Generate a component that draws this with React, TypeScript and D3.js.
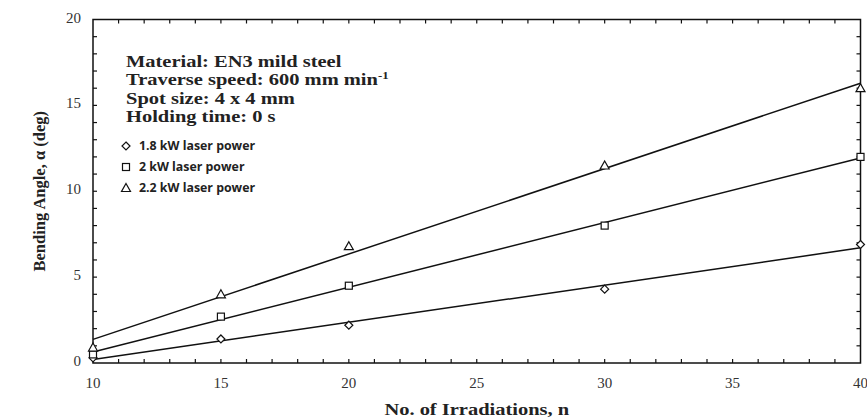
import React from "react";
import * as d3 from "d3";

const irradiations = [10, 15, 20, 30, 40];
const angle18kW = [0.3, 1.4, 2.2, 4.3, 6.9];
const angle2kW = [0.5, 2.7, 4.5, 8.0, 12.0];
const angle22kW = [0.9, 4.0, 6.8, 11.5, 16.0];
const xTicks = [10, 15, 20, 25, 30, 35, 40];
const yTicks = [0, 5, 10, 15, 20];
const notes = [
  "Material: EN3 mild steel",
  "Traverse speed: 600 mm min",
  "Spot size: 4 x 4 mm",
  "Holding time: 0 s",
];
const legendLabels = ["1.8 kW laser power", "2 kW laser power", "2.2 kW laser power"];

const W = 867;
const H = 420;
const margin = { top: 19.5, right: 6.5, bottom: 57, left: 93 };

// least squares fit, drawn over the full x range
function fit(xs: number[], ys: number[]) {
  const mx = d3.mean(xs)!;
  const my = d3.mean(ys)!;
  const sxy = d3.sum(xs, (x, i) => (x - mx) * (ys[i] - my));
  const sxx = d3.sum(xs, (x) => (x - mx) ** 2);
  const b = sxy / sxx;
  return (x: number) => my + b * (x - mx);
}

function Marker({ type, cx, cy }: { type: string; cx: number; cy: number }) {
  const st = { fill: "white", stroke: "#111", strokeWidth: 1.2 };
  if (type === "diamond")
    return <path d={`M${cx},${cy - 4}L${cx + 4},${cy}L${cx},${cy + 4}L${cx - 4},${cy}Z`} {...st} />;
  if (type === "square") return <rect x={cx - 3.5} y={cy - 3.5} width={7} height={7} {...st} />;
  return <path d={`M${cx},${cy - 4.5}L${cx + 4.5},${cy + 3.5}L${cx - 4.5},${cy + 3.5}Z`} {...st} />;
}

export default function App() {
  const x = d3.scaleLinear().domain([10, 40]).range([margin.left, W - margin.right]);
  const y = d3.scaleLinear().domain([0, 20]).range([H - margin.bottom, margin.top]);
  const series = [
    { type: "diamond", values: angle18kW },
    { type: "square", values: angle2kW },
    { type: "triangle", values: angle22kW },
  ];
  const minorX = d3.range(11, 40);
  const minorY = d3.range(1, 20);
  const x0 = x.range()[0], x1 = x.range()[1], y0 = y.range()[0], y1 = y.range()[1];
  const serif = "'Liberation Serif', 'Times New Roman', serif";

  return (
    <svg width={W} height={H} style={{ position: "absolute", left: 0, top: 0, background: "white" }}>
      <rect x={x0} y={y1} width={x1 - x0} height={y0 - y1} fill="none" stroke="#111" strokeWidth={1.5} />
      {minorX.map((v) => (
        <g key={"tx" + v} stroke="#111" strokeWidth={1.2}>
          <line x1={x(v)} x2={x(v)} y1={y0} y2={y0 - 4} />
          <line x1={x(v)} x2={x(v)} y1={y1} y2={y1 + 4} />
        </g>
      ))}
      {minorY.map((v) => (
        <g key={"ty" + v} stroke="#111" strokeWidth={1.2}>
          <line x1={x0} x2={x0 + 4} y1={y(v)} y2={y(v)} />
          <line x1={x1} x2={x1 - 4} y1={y(v)} y2={y(v)} />
        </g>
      ))}
      {xTicks.map((v) => (
        <text key={"lx" + v} x={x(v)} y={y0 + 25} textAnchor="middle" fontFamily={serif} fontSize={15} fill="#333">
          {v}
        </text>
      ))}
      {yTicks.map((v) => (
        <text key={"ly" + v} x={x0 - 12} y={y(v) + 3} textAnchor="end" fontFamily={serif} fontSize={15} fill="#333">
          {v}
        </text>
      ))}
      {series.map((s) => {
        const f = fit(irradiations, s.values);
        return (
          <g key={s.type}>
            <line x1={x(10)} y1={y(f(10))} x2={x(40)} y2={y(f(40))} stroke="#111" strokeWidth={1.5} />
            {irradiations.map((n, i) => (
              <Marker key={n} type={s.type} cx={x(n)} cy={y(s.values[i])} />
            ))}
          </g>
        );
      })}
      <g fontFamily={serif} fontWeight="bold" fontSize={16} fill="#222" transform="translate(126,0) scale(1.28,1)">
        {notes.map((t, i) => (
          <text key={t} x={0} y={67 + i * 18.5}>
            {t}
            {i === 1 && (
              <tspan dy={-6} fontSize={10}>
                -1
              </tspan>
            )}
          </text>
        ))}
      </g>
      <g fontFamily="'Open Sans', sans-serif" fontWeight="bold" fontSize={12} fill="#222">
        {legendLabels.map((t, i) => (
          <g key={t}>
            <Marker type={series[i].type} cx={126} cy={146 + i * 21} />
            <text x={139} y={150 + i * 21} transform={`translate(139,0) scale(1.03,1) translate(-139,0)`}>
              {t}
            </text>
          </g>
        ))}
      </g>
      <text
        transform={`translate(${(x0 + x1) / 2},415) scale(1.28,1)`}
        textAnchor="middle"
        fontFamily={serif}
        fontWeight="bold"
        fontSize={16}
        fill="#222"
      >
        No. of Irradiations, n
      </text>
      <text
        transform={`translate(45,${(y0 + y1) / 2}) rotate(-90)`}
        textAnchor="middle"
        fontFamily={serif}
        fontWeight="bold"
        fontSize={16.5}
        fill="#222"
      >
        Bending Angle, α (deg)
      </text>
    </svg>
  );
}
